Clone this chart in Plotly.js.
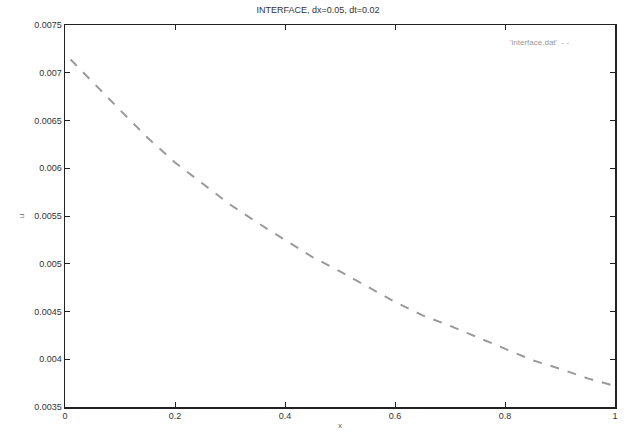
<!DOCTYPE html>
<html>
<head>
<meta charset="utf-8">
<script src="https://cdn.plot.ly/plotly-3.0.1.min.js"></script>
<style>html,body{margin:0;padding:0;background:#fff;}#chart{width:636px;height:432px;}</style>
</head>
<body>
<div id="chart"></div>
<script>
var xValues = [0.01, 0.05, 0.10, 0.15, 0.20, 0.25, 0.30, 0.35, 0.40, 0.45, 0.50, 0.55, 0.60, 0.65, 0.70, 0.75, 0.80, 0.85, 0.90, 0.95, 1.00];
var uValues = [0.00714, 0.00690, 0.00661, 0.00632, 0.00606, 0.00584, 0.00562, 0.00543, 0.00525, 0.00507, 0.00492, 0.00476, 0.00460, 0.00446, 0.00435, 0.00423, 0.00411, 0.00399, 0.00390, 0.00380, 0.00372];
var xTicks = [0, 0.2, 0.4, 0.6, 0.8, 1];
var xTickLabels = ["0", "0.2", "0.4", "0.6", "0.8", "1"];
var yTicks = [0.0035, 0.004, 0.0045, 0.005, 0.0055, 0.006, 0.0065, 0.007, 0.0075];
var yTickLabels = ["0.0035", "0.004", "0.0045", "0.005", "0.0055", "0.006", "0.0065", "0.007", "0.0075"];
var titleText = "INTERFACE, dx=0.05, dt=0.02";
var seriesName = "'interface.dat'";

var trace = {
  x: xValues, y: uValues, mode: "lines", name: seriesName,
  line: {color: "#9a9a9a", width: 2, dash: "dash"},
  showlegend: false, hoverinfo: "skip"
};

var axisCommon = {
  showgrid: false, zeroline: false, showline: true, mirror: "ticks",
  linecolor: "#222", linewidth: 1.5, ticks: "inside", ticklen: 5, tickcolor: "#222",
  tickfont: {family: "Liberation Sans, Arial, sans-serif", size: 9, color: "#333"}
};

var layout = {
  width: 636, height: 432,
  margin: {l: 65, r: 21, t: 25, b: 25},
  paper_bgcolor: "#fff", plot_bgcolor: "#fff",
  title: {text: titleText, x: 0.5, xanchor: "center", y: 0.985, yanchor: "top",
          font: {family: "Liberation Sans, Arial, sans-serif", size: 9, color: "#333"}},
  xaxis: Object.assign({}, axisCommon, {
    range: [0, 1], tickvals: xTicks, ticktext: xTickLabels,
    title: {text: "x", font: {size: 8, color: "#666"}, standoff: 2}
  }),
  yaxis: Object.assign({}, axisCommon, {
    range: [0.0035, 0.0075], tickvals: yTicks, ticktext: yTickLabels,
    title: {text: "u", font: {size: 8, color: "#666"}, standoff: 8}
  }),
  annotations: [{
    xref: "paper", yref: "paper", x: 0.92, y: 0.955, xanchor: "right", yanchor: "middle",
    text: seriesName + "  - -", showarrow: false,
    font: {family: "Liberation Sans, Arial, sans-serif", size: 8, color: "#999"}
  }]
};

Plotly.newPlot("chart", [trace], layout, {displayModeBar: false, staticPlot: true});
</script>
</body>
</html>
